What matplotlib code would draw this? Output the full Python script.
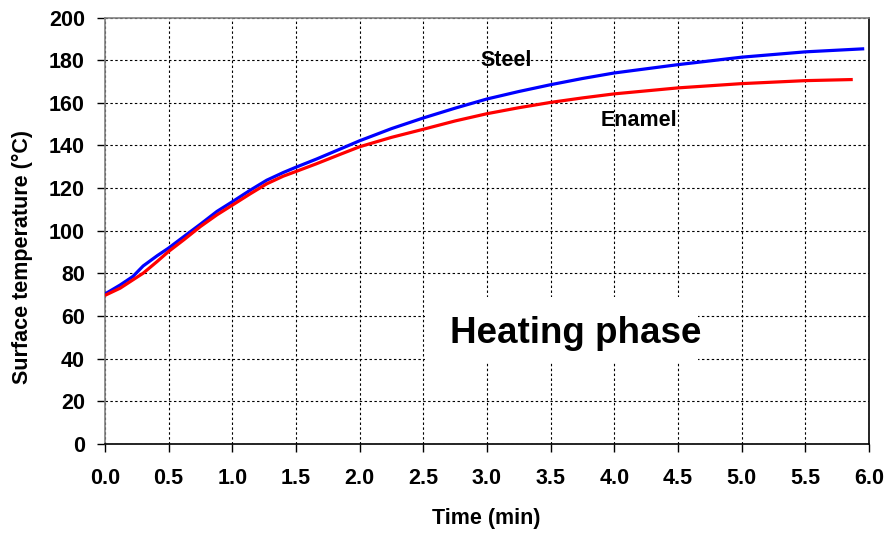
import matplotlib.pyplot as plt
from matplotlib.patches import Rectangle

# readings from the reference chart
steel_time = [0.01, 0.12, 0.22, 0.30, 0.41, 0.50, 0.62, 0.75, 0.88, 1.0, 1.14, 1.27, 1.40, 1.5, 1.66, 1.85,
              2.0, 2.25, 2.5, 2.75, 3.0, 3.25, 3.5, 3.75, 4.0, 4.5, 5.0, 5.5, 5.95]
steel_temp = [70.7, 74.6, 78.6, 83.5, 88.3, 91.9, 97.3, 103.1, 109.1, 113.6, 119.0, 123.7, 127.3, 129.8, 133.6, 138.4,
              142.2, 147.9, 152.9, 157.5, 161.8, 165.3, 168.5, 171.4, 174.0, 177.9, 181.4, 183.9, 185.3]

enamel_time = [0.01, 0.12, 0.22, 0.30, 0.41, 0.50, 0.62, 0.75, 0.88, 1.0, 1.14, 1.27, 1.40, 1.5, 1.66, 1.85,
               2.0, 2.25, 2.5, 2.75, 3.0, 3.25, 3.5, 3.75, 4.0, 4.5, 5.0, 5.5, 5.86]
enamel_temp = [70.0, 73.1, 77.0, 80.1, 85.6, 90.3, 95.8, 102.0, 107.5, 112.0, 117.3, 122.0, 125.6, 127.8, 131.4, 135.9,
               139.4, 143.8, 147.6, 151.5, 154.9, 157.7, 160.2, 162.3, 164.2, 167.0, 169.0, 170.4, 170.9]

x_ticks = [i * 0.5 for i in range(13)]
y_ticks = list(range(0, 201, 20))

plt.rcParams["font.family"] = ["Liberation Sans", "DejaVu Sans"]
plt.rcParams["font.weight"] = "bold"

fig = plt.figure(figsize=(8.88, 5.34), dpi=100)
ax = fig.add_axes([0.1182, 0.1685, 0.8604, 0.7987])

ax.plot(steel_time, steel_temp, color="#0000ff", linewidth=2.3, zorder=3)
ax.plot(enamel_time, enamel_temp, color="#ff0000", linewidth=2.3, zorder=3)

ax.set_xlim(0, 6)
ax.set_ylim(0, 200)
ax.set_xticks(x_ticks)
ax.set_xticklabels([f"{v:.1f}" for v in x_ticks])
ax.set_yticks(y_ticks)
ax.grid(True, color="black", linestyle=(0, (2.2, 2.2)), linewidth=0.8, zorder=0)
ax.tick_params(axis="both", direction="out", length=6, width=1, labelsize=15.5, colors="black")
ax.tick_params(axis="y", pad=8.5)
ax.tick_params(axis="x", pad=11)

for side in ("left", "top"):
    ax.spines[side].set_color("#808080")
for side in ("right", "bottom"):
    ax.spines[side].set_color("black")
for s in ax.spines.values():
    s.set_linewidth(1.2)

ax.set_xlabel("Time (min)", fontsize=15.5, fontweight="bold")
ax.set_ylabel("Surface temperature (°C)", fontsize=15.5, fontweight="bold")
ax.xaxis.set_label_coords(0.4985, -0.150)
ax.yaxis.set_label_coords(-0.094, 0.438)

ax.text(3.15, 180, "Steel", fontsize=15.5, fontweight="bold", ha="center", va="center", zorder=4)
ax.text(4.19, 151.5, "Enamel", fontsize=15.5, fontweight="bold", ha="center", va="center", zorder=4)

# white label box that hides the grid behind the caption
ax.add_patch(Rectangle((2.513, 38.5), 2.144, 30.5, facecolor="white", edgecolor="none", zorder=2))
ax.text(3.695, 47.4, "Heating phase", fontsize=26.5, fontweight="bold", ha="center", va="baseline", zorder=4)

fig.savefig("out.png", dpi=100)
